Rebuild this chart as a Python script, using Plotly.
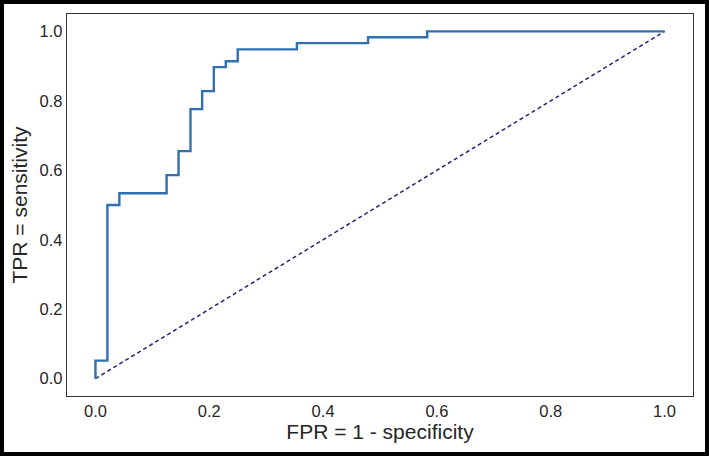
import plotly.graph_objects as go

# ROC curve vertices
fpr = [0.0, 0.0, 0.021, 0.021, 0.042, 0.042, 0.125, 0.125, 0.146, 0.146,
       0.167, 0.167, 0.1875, 0.1875, 0.208, 0.208, 0.229, 0.229, 0.25, 0.25,
       0.354, 0.354, 0.479, 0.479, 0.583, 0.583, 1.0]
tpr = [0.0, 0.052, 0.052, 0.5, 0.5, 0.534, 0.534, 0.586, 0.586, 0.655,
       0.655, 0.776, 0.776, 0.828, 0.828, 0.897, 0.897, 0.914, 0.914, 0.948,
       0.948, 0.966, 0.966, 0.983, 0.983, 1.0, 1.0]
chance_x = [0.0, 1.0]
chance_y = [0.0, 1.0]
tick_vals = [0.0, 0.2, 0.4, 0.6, 0.8, 1.0]
tick_text = ["0.0", "0.2", "0.4", "0.6", "0.8", "1.0"]

fig = go.Figure()
fig.add_trace(go.Scatter(x=chance_x, y=chance_y, mode="lines",
                         line=dict(color="#23237a", width=1.5, dash="4px,3px"),
                         showlegend=False))
fig.add_trace(go.Scatter(x=fpr, y=tpr, mode="lines",
                         line=dict(color="#3170b0", width=2.4),
                         showlegend=False))

L, R, T, B = 67, 16, 14, 60
W, H = 709, 456
pw, ph = W - L - R, H - T - B

def px(x):
    return (x - L) / pw

def py(y):
    return (H - B - y) / ph

fig.add_shape(type="rect", xref="paper", yref="paper",
              x0=px(2), x1=px(707), y0=py(2), y1=py(454),
              line=dict(color="black", width=4), fillcolor="rgba(0,0,0,0)",
              layer="above")

axis_common = dict(range=[-0.05, 1.05], tickvals=tick_vals, ticktext=tick_text,
                   showgrid=False, zeroline=False, ticks="", automargin=False,
                   showline=True, linecolor="#333333", linewidth=1.3, mirror=True,
                   tickfont=dict(size=16.5, color="#262626",
                                 family="Liberation Sans, Arial, sans-serif"))

fig.update_layout(
    width=W, height=H,
    margin=dict(l=L, r=R, t=T, b=B),
    paper_bgcolor="white", plot_bgcolor="white",
    font=dict(family="Liberation Sans, Arial, sans-serif", color="#262626"),
    xaxis=dict(**axis_common,
               title=dict(text="FPR = 1 - specificity", font=dict(size=21), standoff=5)),
    yaxis=dict(**axis_common,
               title=dict(text="TPR = sensitivity", font=dict(size=21), standoff=6)),
)

fig.write_html("out.html", config={"displayModeBar": False},
               post_script="document.body.style.margin='0';")
